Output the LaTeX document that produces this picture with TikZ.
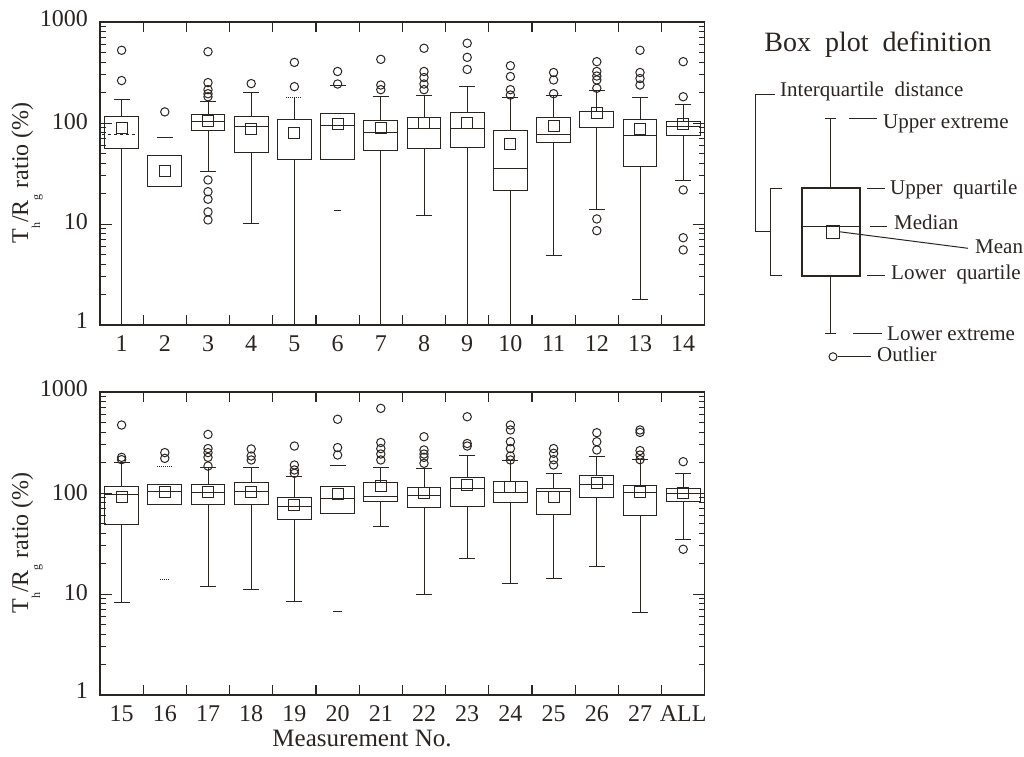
\documentclass[tikz,border=0pt]{standalone}
\usepackage{fontspec}
\setmainfont{Liberation Serif}
\definecolor{ink}{HTML}{2B2522}
\newcommand\hw{0.39}
\newcommand\cw{0.185}
\newcommand\bprect[3]{\draw[ln] ({#1-0.5-\hw},#2) rectangle ({#1-0.5+\hw},#3);}
\newcommand\bpmed[2]{\draw[ln] ({#1-0.5-\hw},#2) -- ({#1-0.5+\hw},#2);}
\newcommand\bpmean[2]{\draw[ln] ({#1-0.5},#2) +(-5.5pt,-5.5pt) rectangle +(5.5pt,5.5pt);}
\newcommand\bpwh[3]{\draw[ln] ({#1-0.5},#2) -- ({#1-0.5},#3);}
\newcommand\bpcap[2]{\draw[ln] ({#1-0.5-\cw},#2) -- ({#1-0.5+\cw},#2);}
\newcommand\bpcapd[2]{\draw[ln,densely dotted] ({#1-0.5-\cw},#2) -- ({#1-0.5+\cw},#2);}
\newcommand\bpout[2]{\foreach \v in {#2} {\draw[ln] ({#1-0.5},\v) circle (4.2pt);}}
\newcommand\bp[8]{\bpwh{#1}{#2}{#3}\bpwh{#1}{#5}{#6}\bpcap{#1}{#2}\bpcap{#1}{#6}%
  \bprect{#1}{#3}{#5}\bpmed{#1}{#4}\bpmean{#1}{#7}\bpout{#1}{#8}}
\newcommand\panelframe{%
  \draw[ax] (0,0) rectangle (14,3);
  \foreach \k in {1,...,13} {\draw[ax] (\k,0) -- ++(0,10pt); \draw[ax] (\k,3) -- ++(0,-10pt);}
  \foreach \d in {0,1,2} {\foreach \m in {2,...,9} {%
    \draw[tk] (0,{\d+log10(\m)}) -- ++(6pt,0); \draw[tk] (14,{\d+log10(\m)}) -- ++(-6pt,0);}}
  \foreach \d in {1,2} {\draw[tk] (0,\d) -- ++(12pt,0); \draw[tk] (14,\d) -- ++(-12pt,0);}}
\newcommand\ytitle{T\raisebox{-12pt}{\fontsize{12}{12}\selectfont h}/R\raisebox{-12pt}{\fontsize{12}{12}\selectfont g} ratio (\%)}
\tikzset{
  ln/.style={line width=1pt, draw=ink},
  ax/.style={line width=1.2pt, draw=ink},
  tk/.style={line width=0.9pt, draw=ink},
  tick/.style={font=\fontsize{24}{24}\selectfont, inner sep=0pt, text=ink},
  lab/.style={font=\fontsize{21}{21}\selectfont, inner sep=0pt, text=ink, anchor=base west},
}
\begin{document}
\begin{tikzpicture}[x=1pt,y=1pt]
\useasboundingbox (0,0) rectangle (1024,756);
% ---------------- top panel
\begin{scope}[shift={(100,431)}, x=43.2pt, y=101pt]
  \panelframe
  % 1
  \bpwh{1}{0}{1.746}\bpwh{1}{2.062}{2.235}\bpcap{1}{2.235}\bprect{1}{1.746}{2.062}
  \draw[ln,dashed] ({0.5-0.45},1.89) -- ({0.5+0.35},1.89);
  \bpmean{1}{1.947}\bpout{1}{2.72,2.42}
  % 2
  \bprect{2}{1.376}{1.68}\bpmean{2}{1.525}\bpcap{2}{1.855}\bpout{2}{2.11}
  % 3
  \bp{3}{1.518}{1.93}{2.013}{2.086}{2.21}{2.02}{2.706,2.40,2.33,2.29,2.26,1.436,1.32,1.245,1.12,1.04}
  \bp{4}{1.007}{1.706}{1.97}{2.062}{2.30}{1.94}{2.39}
  % 5
  \bpwh{5}{0}{1.634}\bpwh{5}{2.037}{2.254}\bpcapd{5}{2.254}\bprect{5}{1.634}{2.037}
  \bpmean{5}{1.90}\bpout{5}{2.60,2.36}
  % 6
  \bprect{6}{1.634}{2.096}\bpmed{6}{1.977}\bpmean{6}{1.99}\bpcap{6}{2.37}
  \draw[ln] ({5.5-0.08},1.13) -- ({5.5+0.08},1.13);
  \bpout{6}{2.51,2.386}
  \bp{7}{0}{1.726}{1.904}{2.023}{2.26}{1.947}{2.63,2.376,2.33}
  \bp{8}{1.082}{1.743}{1.947}{2.053}{2.277}{1.997}{2.74,2.51,2.45,2.386,2.33}
  \bp{9}{0}{1.76}{1.947}{2.10}{2.366}{2.003}{2.79,2.65,2.53}
  \bp{10}{0}{1.327}{1.545}{1.93}{2.254}{1.79}{2.567,2.46,2.33,2.277}
  \bp{11}{0.686}{1.81}{1.89}{2.053}{2.27}{1.97}{2.50,2.426,2.29}
  \bp{12}{1.139}{1.96}{2.11}{2.11}{2.32}{2.10}{2.607,2.51,2.465,2.426,2.344,1.05,0.934}
  \bp{13}{0.257}{1.567}{1.88}{2.037}{2.254}{1.94}{2.72,2.50,2.44,2.376}
  \bp{14}{1.426}{1.874}{1.97}{2.013}{2.185}{1.99}{2.607,2.26,1.337,0.864,0.743}
  % labels
  \foreach \i in {1,...,14} {\node[tick, anchor=base, yshift=-26.5pt] (tx\i) at ({\i-0.5},0) {\i};}
  \node[tick, anchor=base east, xshift=-12pt, yshift=-4.4pt] (ty3) at (0,3) {1000};
  \node[tick, anchor=base east, xshift=-12pt, yshift=-7pt] (ty2) at (0,2) {100};
  \node[tick, anchor=base east, xshift=-12pt, yshift=-6pt] (ty1) at (0,1) {10};
  \node[tick, anchor=base east, xshift=-12pt, yshift=-3pt] (ty0) at (0,0) {1};
\end{scope}
\node[tick, rotate=90, anchor=base] (ttitle) at (28,583) {\ytitle};
% ---------------- bottom panel
\begin{scope}[shift={(100,61)}, x=43.2pt, y=101pt]
  \panelframe
  \bp{1}{0.914}{1.693}{1.99}{2.062}{2.30}{1.957}{2.673,2.353,2.33}
  % 16
  \bprect{2}{1.888}{2.089}\bpmed{2}{2.013}\bpmean{2}{2.006}\bpcapd{2}{2.26}
  \draw[ln,densely dotted] ({1.5-0.1},1.145) -- ({1.5+0.1},1.145);
  \bpout{2}{2.40,2.343}
  \bp{3}{1.072}{1.888}{2.007}{2.089}{2.25}{2.007}{2.58,2.44,2.40,2.353,2.267}
  \bp{4}{1.046}{1.888}{2.013}{2.10}{2.25}{2.013}{2.436,2.366,2.327}
  \bp{5}{0.93}{1.733}{1.871}{1.957}{2.168}{1.88}{2.465,2.277,2.228,2.195}
  % 20
  \bprect{6}{1.80}{2.062}\bpmed{6}{1.947}\bpmean{6}{1.99}\bpcap{6}{2.27}
  \draw[ln] ({5.5-0.1},0.825) -- ({5.5+0.1},0.825);
  \bpout{6}{2.73,2.45,2.376}
  \bp{7}{1.673}{1.914}{1.97}{2.10}{2.25}{2.07}{2.838,2.50,2.44,2.386,2.327}
  \bp{8}{0.997}{1.855}{1.98}{2.053}{2.238}{2.003}{2.557,2.426,2.386,2.353,2.294}
  \bp{9}{1.353}{1.864}{2.046}{2.155}{2.376}{2.079}{2.755,2.49,2.465}
  \bp{10}{1.106}{1.904}{2.006}{2.112}{2.32}{2.056}{2.673,2.624,2.508,2.44,2.366,2.327}
  \bp{11}{1.149}{1.789}{2.013}{2.04}{2.195}{1.963}{2.44,2.393,2.33,2.277}
  \bp{12}{1.27}{1.957}{2.089}{2.178}{2.366}{2.10}{2.597,2.508,2.426}
  \bp{13}{0.818}{1.775}{2.003}{2.072}{2.33}{2.013}{2.624,2.60,2.42,2.376,2.33}
  \bp{14}{1.535}{1.914}{1.996}{2.046}{2.195}{1.996}{2.31,1.443}
  \foreach \i/\t in {1/15,2/16,3/17,4/18,5/19,6/20,7/21,8/22,9/23,10/24,11/25,12/26,13/27,14/ALL}
    {\node[tick, anchor=base, yshift=-26.5pt] (bx\i) at ({\i-0.5},0) {\t};}
  \node[tick, anchor=base east, xshift=-12pt, yshift=-4.4pt] (by3) at (0,3) {1000};
  \node[tick, anchor=base east, xshift=-12pt, yshift=-7pt] (by2) at (0,2) {100};
  \node[tick, anchor=base east, xshift=-12pt, yshift=-6pt] (by1) at (0,1) {10};
  \node[tick, anchor=base east, xshift=-12pt, yshift=-3pt] (by0) at (0,0) {1};
\end{scope}
\node[tick, rotate=90, anchor=base] (btitle) at (28,213) {\ytitle};
\node[tick, font=\fontsize{25}{25}\selectfont, anchor=base] (xtitle) at (362,9.3) {Measurement No.};
% ---------------- legend
\node[tick, font=\fontsize{28}{28}\selectfont, anchor=base] (lgtitle) at (878,704) {Box\ \ plot\ \ definition};
\draw[ink, line width=2pt] (802,480.3) rectangle (860,567.7);
\draw[ln] (802,529.3) -- (860,529.3);
\draw[ln] (826,517.7) rectangle (839,530.3);
\coordinate (wtop) at (830.7,637);
\coordinate (wbot) at (830.7,422.7);
\draw[ln] (830.7,567.7) -- (wtop); \draw[ln] (825.2,637) -- (836.2,637);
\draw[ln] (830.7,480.3) -- (wbot); \draw[ln] (825.2,422.7) -- (836.2,422.7);
\draw[ln] (833,399.3) circle (4pt);
% labels
\node[lab] (lue) at (883,627.7) {Upper extreme};
\node[lab] (luq) at (890,561.7) {Upper\ \ quartile};
\node[lab] (lmd) at (894,526.7) {Median};
\node[lab] (lmn) at (975,502.7) {Mean};
\node[lab] (llq) at (891,476) {Lower\ \ quartile};
\node[lab] (lle) at (887,416) {Lower extreme};
\node[lab] (lol) at (877,395) {Outlier};
\node[lab] (liq) at (780,659.3) {Interquartile\ \ distance};
\draw[ln] (849,637) -- (877,637);
\draw[ln] (867,567.7) -- (885,567.7);
\draw[ln] (870,529.3) -- (887,529.3);
\draw[ln] (839,524.3) -- (968,507.7);
\draw[ln] (867,480.3) -- (885,480.3);
\draw[ln] (853,422.7) -- (882,422.7);
\draw[ln] (837.5,399.3) -- (871,399.3);
\draw[ln] (775,661.7) -- (755,661.7) -- (755,524.3) -- (770,524.3);
\draw[ln] (782,567) -- (770,567) -- (770,480.3) -- (782,480.3);
\end{tikzpicture}
\end{document}
